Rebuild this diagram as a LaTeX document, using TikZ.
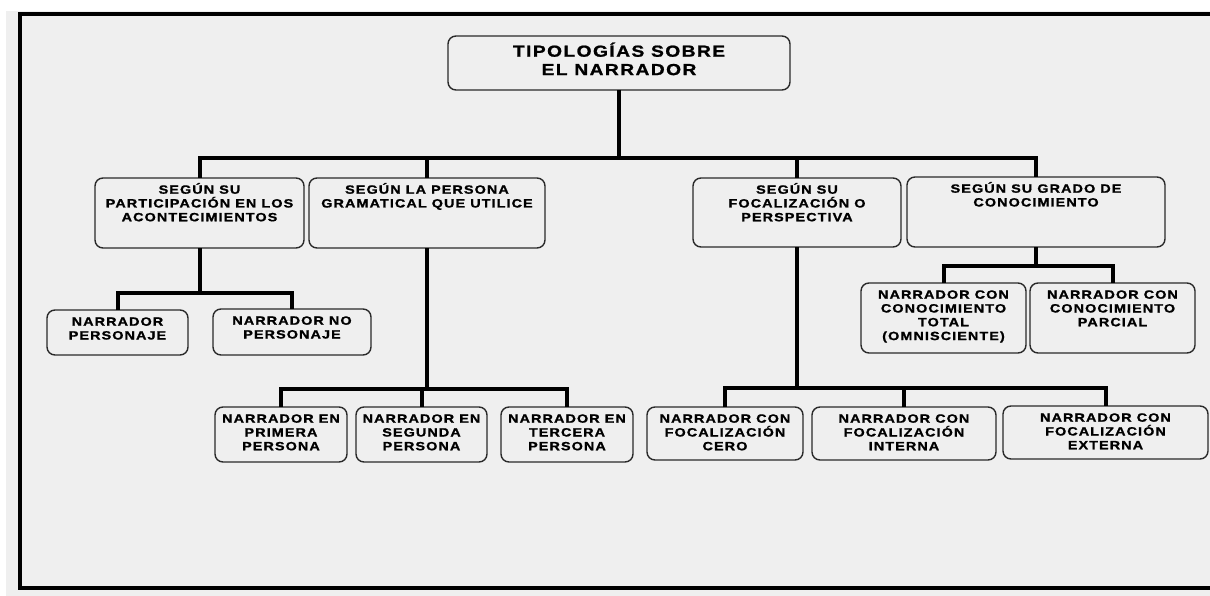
\documentclass[tikz,border=0pt]{standalone}
\usepackage{fontspec}
\setmainfont{Liberation Sans}[FakeStretch=1.2,LetterSpace=9,FakeBold=1.2]
\definecolor{bgray}{HTML}{EFEFEF}
\definecolor{edge}{HTML}{2A2A2A}
\tikzset{
  box/.style={draw=edge, line width=1.4pt, rounded corners=8pt, fill=bgray, inner sep=0pt, outer sep=0pt},
  txt/.style={align=center, inner sep=0pt, outer sep=0pt, font=\bfseries\fontsize{12}{13.8}\selectfont},
  roottxt/.style={align=center, inner sep=0pt, outer sep=0pt, font=\bfseries\fontsize{16}{18.4}\selectfont},
  conn/.style={line width=4pt, line join=miter, draw=black},
  frame/.style={line width=3.5pt, draw=black, line join=miter}
}
\newcommand\tbox[6]{%
  \node[box, minimum width={#4-#2}, minimum height={#5-#3}] (#1) at ({(#2+#4)/2},{(#3+#5)/2}) {};
  \node[txt, anchor=north] (#1t) at ([yshift=-3.7pt]#1.north) {\rule{0pt}{12pt}#6};
}
\begin{document}
\begin{tikzpicture}[x=1pt,y=-1pt]
\useasboundingbox (0,0) rectangle (1210,596);
\fill[white] (0,0) rectangle (1210,596);
\fill[bgray] (6,11) rectangle (1210,596);
\draw[frame] (1210,14) -- (20,14) -- (20,588) -- (1210,588);

% root
\node[box, minimum width=342, minimum height=54] (root) at (619,63) {};
\node[roottxt, anchor=north] (roott) at ([yshift=-4.7pt]root.north) {\rule{0pt}{16pt}TIPOLOGÍAS SOBRE\\EL NARRADOR};

% level 1
\tbox{b1}{95}{178}{304}{248}{SEGÚN SU\\PARTICIPACIÓN EN LOS\\ACONTECIMIENTOS}
\tbox{b2}{309}{178}{545}{248}{SEGÚN LA PERSONA\\GRAMATICAL QUE UTILICE}
\tbox{b3}{693}{178}{901}{247}{SEGÚN SU\\FOCALIZACIÓN O\\PERSPECTIVA}
\tbox{b4}{907}{177}{1165}{247}{SEGÚN SU GRADO DE\\CONOCIMIENTO}

% children of b1
\tbox{p1}{47}{310}{188}{355}{NARRADOR\\PERSONAJE}
\tbox{p2}{213}{309}{371}{355}{NARRADOR NO\\PERSONAJE}

% children of b2
\tbox{g1}{215}{407}{347}{462}{NARRADOR EN\\PRIMERA\\PERSONA}
\tbox{g2}{356}{407}{487}{462}{NARRADOR EN\\SEGUNDA\\PERSONA}
\tbox{g3}{501}{407}{633}{462}{NARRADOR EN\\TERCERA\\PERSONA}

% children of b3
\tbox{f1}{647}{407}{803}{460}{NARRADOR CON\\FOCALIZACIÓN\\CERO}
\tbox{f2}{812}{407}{996}{460}{NARRADOR CON\\FOCALIZACIÓN\\INTERNA}
\tbox{f3}{1003}{406}{1208}{459}{NARRADOR CON\\FOCALIZACIÓN\\EXTERNA}

% children of b4
\tbox{k1}{861}{283}{1026}{353}{NARRADOR CON\\CONOCIMIENTO\\TOTAL\\(OMNISCIENTE)}
\tbox{k2}{1030}{283}{1195}{353}{NARRADOR CON\\CONOCIMIENTO\\PARCIAL}

% buses
\coordinate (bus0) at (0,158.5);
\coordinate (bus1) at (0,293);
\coordinate (bus2) at (0,389);
\coordinate (bus3) at (0,388);
\coordinate (bus4) at (0,266);

\draw[conn] (root.south) -- (root.south |- bus0);
\draw[conn] (b1.north) -- (b1.north |- bus0) -| (b4.north);
\draw[conn] (b2.north) -- (b2.north |- bus0);
\draw[conn] (b3.north) -- (b3.north |- bus0);

\draw[conn] (b1.south) -- (b1.south |- bus1);
\draw[conn] (p1.north) -- (p1.north |- bus1) -| (p2.north);

\draw[conn] (b2.south) -- (b2.south |- bus2);
\draw[conn] (g1.north) -- (g1.north |- bus2) -| (g3.north);
\draw[conn] (g2.north) -- (g2.north |- bus2);

\draw[conn] (b3.south) -- (b3.south |- bus3);
\draw[conn] (f1.north) -- (f1.north |- bus3) -| (f3.north);
\draw[conn] (f2.north) -- (f2.north |- bus3);

\draw[conn] (b4.south) -- (b4.south |- bus4);
\draw[conn] (k1.north) -- (k1.north |- bus4) -| (k2.north);
\end{tikzpicture}
\end{document}
